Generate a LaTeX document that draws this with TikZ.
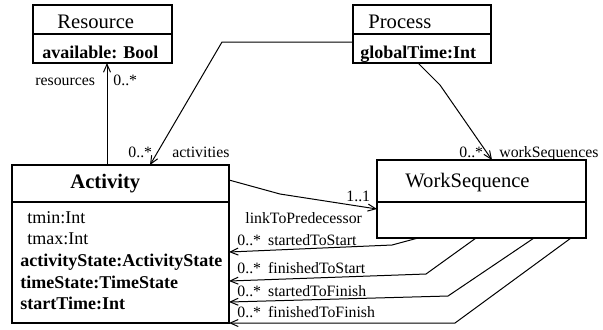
\documentclass[tikz,border=0pt]{standalone}
\usepackage{fontspec}
\setmainfont{Liberation Serif}
\usetikzlibrary{positioning}
\usetikzlibrary{calc}
\usetikzlibrary{arrows.meta}

\begin{document}
\begin{tikzpicture}[
			x=0.5pt, y=-0.5pt,
			box/.style={draw, rectangle, line width=0.55pt, inner sep=0pt, outer sep=0pt, anchor=north west},
			classname/.style={font=\fontsize{10.3}{12}\selectfont, inner sep=0pt, anchor=base west},
			attr/.style={font=\fontsize{9}{11}\selectfont, inner sep=0pt, anchor=base west},
			role/.style={font=\fontsize{7.9}{9}\selectfont, inner sep=0pt, anchor=base west},
			assoc/.style={line width=0.5pt, -{Straight Barb[length=4pt,width=3.5pt]}}
		]
			\useasboundingbox (0,0) rectangle (603,329);
			% classes
			\node[box, minimum width=69.5pt, minimum height=14.5pt] (resH) at (33,5) {};
			\node[box, minimum width=69.5pt, minimum height=14.5pt, below=0pt of resH] (resB) {};
			\node[box, minimum width=69pt, minimum height=14.5pt] (procH) at (353,5) {};
			\node[box, minimum width=69pt, minimum height=14.5pt, below=0pt of procH] (procB) {};
			\node[box, minimum width=108.5pt, minimum height=18.5pt] (actH) at (12,165) {};
			\node[box, minimum width=108.5pt, minimum height=60.5pt, below=0pt of actH] (actB) {};
			\node[box, minimum width=104.5pt, minimum height=21pt] (wsH) at (377,160) {};
			\node[box, minimum width=104.5pt, minimum height=18pt, below=0pt of wsH] (wsB) {};
			\node[classname] (resN) at (57,28) {Resource};
			\node[attr] (resA) at (42,58) {\textbf{available: Bool}};
			\node[classname] (procN) at (368,28) {Process};
			\node[attr] (procA) at (360,58) {\textbf{globalTime:Int}};
			\node[classname] (actN) at (70,188) {\textbf{Activity}};
			\node[attr] (tmin) at (27,223) {tmin:Int};
			\node[attr] (tmax) at (27,244) {tmax:Int};
			\node[attr] (actState) at (20,266) {\textbf{activityState:ActivityState}};
			\node[attr] (timeState) at (20,288) {\textbf{timeState:TimeState}};
			\node[attr] (startTime) at (20,309) {\textbf{startTime:Int}};
			\node[classname] (wsN) at (405,187) {WorkSequence};
			% associations
			\draw[assoc] ($(actH.north west)+(95,0)$) -- ($(resB.south west)+(74,0)$);
			\draw[assoc] ($(procB.north west)+(0,8)$) -- (222,42) -- ($(actH.north west)+(138,0)$);
			\draw[assoc] ($(procB.south west)+(65,0)$) -- (440,85) -- ($(wsH.north west)+(115,0)$);
			\draw[assoc] ($(actH.north east)+(0,15)$) -- (280,194) -- ($(wsB.north west)+(0,7)$);
			\draw[assoc] ($(wsB.south west)+(41,0)$) -- (392,245) -- ($(actB.north east)+(0,50)$);
			\draw[assoc] ($(wsB.south west)+(99,0)$) -- (426,274) -- ($(actB.north east)+(0,79)$);
			\draw[assoc] ($(wsB.south west)+(157,0)$) -- (448,296) -- ($(actB.north east)+(0,100)$);
			\draw[assoc] ($(wsB.south west)+(194,0)$) -- (455,323) -- (actB.south east);
			% role names
			\node[role] (resRole) at (35,85) {resources};
			\node[role] (resMult) at (113,85) {0..*};
			\node[role] (actMult) at (128,157) {0..*};
			\node[role] (actRole) at (172,157) {activities};
			\node[role] (wsMult) at (459,157) {0..*};
			\node[role] (wsRole) at (499,157) {workSequences};
			\node[role] (predMult) at (346,201) {1..1};
			\node[role] (predRole) at (245,223) {linkToPredecessor};
			\node[role] (s2s) at (237,245) {0..*\hspace{3.5pt}startedToStart};
			\node[role] (f2s) at (237,273) {0..*\hspace{3.5pt}finishedToStart};
			\node[role] (s2f) at (237,296) {0..*\hspace{3.5pt}startedToFinish};
			\node[role] (f2f) at (237,317) {0..*\hspace{3.5pt}finishedToFinish};
		\end{tikzpicture}
\end{document}
